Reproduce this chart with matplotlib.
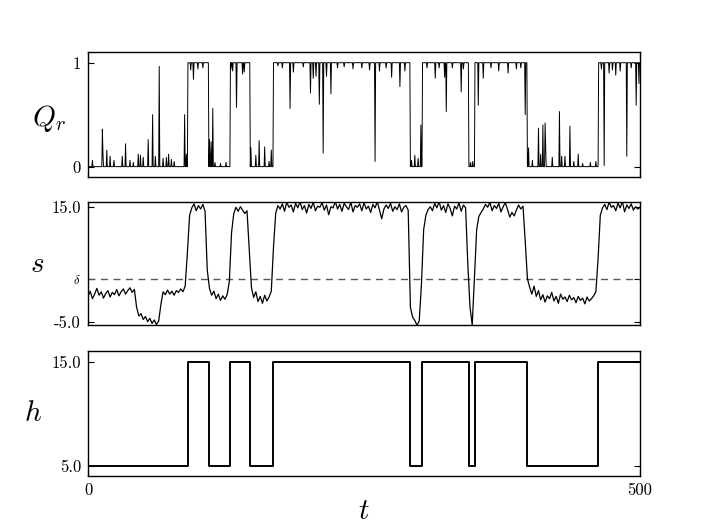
import numpy as np
import matplotlib
matplotlib.use("Agg")
import matplotlib.pyplot as plt

plt.rcParams["font.family"] = "cmr10"
plt.rcParams["mathtext.fontset"] = "cm"
plt.rcParams["axes.unicode_minus"] = False

# external field h: switching times and levels
h_switch = [0, 90.4, 109.3, 128.6, 146.7, 167.6, 291.7, 302.8, 344.7, 350.5, 397.7, 462.2, 500]
h_level = [5, 15, 5, 15, 5, 15, 5, 15, 5, 15, 5, 15]

# s(t), read every 2 time units from t=0 to t=500
s_vals = [
    -0.6, 0.3, -1.0, -0.2, 0.8, -0.4, 0.2, -0.9, -0.1, 0.4, -0.7, 0.1, -0.3, 0.6, -0.5, 0.2,
    0.7, -0.2, 0.4, 0.9, 0.1, 0.6,
    -2.5, -4.0, -3.6, -4.6, -4.1, -5.0, -4.4, -5.3, -4.7, -5.5, -4.9,
    -2.0, 0.2, -0.3, 0.5, -0.2, 0.3, -0.4, 0.4, 0.1, 0.7, 0.2, 1.2,
    7.0, 13.5, 14.8, 15.5, 14.3, 15.2, 14.6, 15.4, 14.2,
    4.0, 0.8, -0.4, 0.3, -1.0, -0.2, -1.3, -0.5, -1.1, -0.3,
    2.0, 10.5, 13.8, 14.9, 14.2, 15.0, 14.4, 13.8, 14.3,
    7.5, 1.0, -0.8, 0.2, -1.5, -0.6, -1.8, -0.4, -1.4, -0.7, 0.3,
    8.0, 13.9, 15.2,
    14.6, 15.5, 14.2, 15.8, 14.9, 15.3, 14.1, 15.6, 14.8, 15.9,
    14.5, 15.2, 13.9, 15.4, 14.7, 15.8, 14.3, 15.1, 14.9, 15.7,
    14.4, 15.3, 13.6, 15.0, 14.8, 15.9, 14.6, 15.4, 14.2, 15.6,
    15.0, 14.5, 15.8, 14.1, 15.2, 14.9, 15.5, 14.3, 15.7, 14.6,
    15.1, 14.0, 15.4, 14.8, 15.9, 14.4, 12.9, 14.6, 15.3, 14.7,
    15.6, 14.2, 15.0, 14.5, 15.5, 14.1, 14.9, 15.2, 14.4,
    -2.5, -4.2, -4.8, -5.6, -4.9,
    1.5, 11.0, 13.5, 14.5,
    15.0, 14.3, 15.6, 14.8, 15.9, 14.4, 15.2, 14.0, 15.5, 14.7, 13.4, 15.1, 14.6, 15.7, 14.2,
    15.3, 14.8,
    5.0, -2.5, -5.6,
    2.5, 11.0, 13.3, 14.0,
    14.6, 15.4, 14.9, 15.8, 14.3, 15.2, 14.7, 15.6, 14.1, 15.0, 15.7, 14.5, 13.2, 14.0, 13.4,
    14.4, 15.3, 14.6, 15.1,
    9.0, 2.5, 1.0, -0.2,
    1.2, -0.6, 0.4, -1.2, -0.3, -1.6, -0.5, -1.0, 0.1, -1.4, -0.6, -1.8, -0.2, -1.1, -0.7,
    -1.5, -0.4, -1.2, -0.8, -1.7, -0.6, -1.3, -0.9, -1.9, -0.7, -1.4, -1.0, -0.5, 0.2,
    6.0, 13.5, 14.8,
    15.4, 14.5, 15.8, 14.9, 15.2, 14.3, 15.6, 14.8, 15.9, 14.1, 15.3, 14.7, 15.5, 14.4, 15.0,
    14.6, 14.9,
]
delta = 2.5

# Q_r: spikes away from the 0 / 1 baseline
q_spike_t = [4.2, 12.9, 13.5, 16.9, 19.9, 23.6, 31.1, 33.8, 38.0, 41.0, 45.6, 47.4, 50.1,
             54.3, 58.3, 61.0, 64.6, 68.2, 71.2, 73.0, 75.7, 77.8, 87.3, 88.8,
             93.0, 95.4, 99.7, 104.0,
             109.9, 111.4, 112.9, 115.0, 120.0, 125.0,
             129.6, 131.0, 134.7, 140.0, 141.5,
             147.3, 152.0, 155.1, 160.2, 164.0, 166.2,
             172.0, 176.0, 183.0, 186.0, 195.0, 201.7, 204.0, 206.5, 209.5, 213.2, 216.0,
             220.1, 226.0, 232.0, 240.0, 248.0, 255.0, 260.0, 264.0, 270.0, 275.0, 282.6, 287.0,
             293.0, 296.0, 299.0, 301.5,
             307.0, 314.3, 318.0, 323.0, 324.3, 330.0, 337.9, 340.0,
             346.5, 348.5,
             353.6, 358.0, 365.0, 372.0, 380.7, 388.0, 392.0, 396.0,
             398.8, 402.7, 408.2, 410.0, 412.1, 413.9, 414.5, 420.5, 426.9, 429.0, 432.0,
             436.6, 440.0, 444.0, 448.0, 455.0, 460.0,
             465.0, 467.7, 472.0, 475.0, 478.0, 482.0, 488.0, 492.0, 496.4, 499.0]
q_spike_v = [0.06, 0.36, 0.14, 0.16, 0.10, 0.06, 0.10, 0.22, 0.06, 0.04, 0.12, 0.11, 0.09,
             0.26, 0.50, 0.10, 0.965, 0.08, 0.09, 0.12, 0.07, 0.05, 0.50, 0.12,
             0.93, 0.84, 0.94, 0.95,
             0.26, 0.24, 0.56, 0.04, 0.03, 0.04,
             0.94, 0.92, 0.57, 0.89, 0.91,
             0.18, 0.11, 0.25, 0.19, 0.05, 0.16,
             0.97, 0.95, 0.56, 0.91, 0.96, 0.71, 0.85, 0.87, 0.60, 0.13, 0.87,
             0.70, 0.95, 0.96, 0.94, 0.95, 0.93, 0.05, 0.92, 0.95, 0.86, 0.77, 0.92,
             0.06, 0.11, 0.08, 0.40,
             0.95, 0.85, 0.95, 0.86, 0.53, 0.95, 0.72, 0.94,
             0.04, 0.05,
             0.59, 0.85, 0.95, 0.92, 0.90, 0.94, 0.95, 0.50,
             0.18, 0.06, 0.37, 0.12, 0.40, 0.42, 0.22, 0.09, 0.53, 0.10, 0.10,
             0.39, 0.05, 0.12, 0.03, 0.04, 0.05,
             0.94, 0.01, 0.90, 0.93, 0.88, 0.92, 0.10, 0.95, 0.59, 0.80]

# build the traces
t_s = np.linspace(0, 500, len(s_vals))
t_q = np.arange(0, 500.01, 0.5)
idx = np.searchsorted(h_switch, t_q, side="right") - 1
idx = np.clip(idx, 0, len(h_level) - 1)
q = np.where(np.array(h_level)[idx] == 15, 1.0, 0.0)
for ts, v in zip(q_spike_t, q_spike_v):
    q[int(round(ts / 0.5))] = v

fig = plt.figure(figsize=(7.11, 5.30), dpi=100)
left, width = 0.1238, 0.7764
ax1 = fig.add_axes([left, 0.666, width, 0.2353])
ax2 = fig.add_axes([left, 0.3862, width, 0.2332])
ax3 = fig.add_axes([left, 0.1019, width, 0.2358])

ax1.plot(t_q, q, color="k", lw=0.7)
ax1.set_ylim(-0.1, 1.1)
ax1.set_yticks([0, 1])
ax1.set_yticklabels(["0", "1"], fontsize=12)

ax2.axhline(delta, color="0.35", lw=1.0, ls=(0, (5, 4)))
ax2.plot(t_s, s_vals, color="k", lw=0.9)
ax2.set_ylim(-5.63, 15.87)
ax2.set_yticks([-5, delta, 15])
ax2.set_yticklabels(["-5.0", r"$\delta$", "15.0"], fontsize=12)
ax2.get_yticklabels()[1].set_fontsize(9)

ax3.step(h_switch, h_level + [h_level[-1]], where="post", color="k", lw=1.4)
ax3.set_ylim(4.04, 16.06)
ax3.set_yticks([5, 15])
ax3.set_yticklabels(["5.0", "15.0"], fontsize=12)

for ax in (ax1, ax2, ax3):
    ax.set_xlim(0, 500)
    ax.set_xticks([0, 500])
    ax.tick_params(direction="in", length=4.5, width=0.8, right=True, top=True, pad=5)
    for sp in ax.spines.values():
        sp.set_linewidth(1.0)
ax1.set_xticklabels([])
ax2.set_xticklabels([])
ax3.set_xticklabels(["0", "500"], fontsize=12)

ax1.set_ylabel(r"$Q_r$", fontsize=21, rotation=0, ha="center", va="center")
ax1.yaxis.set_label_coords(-0.071, 0.47)
ax2.set_ylabel(r"$s$", fontsize=21, rotation=0, ha="center", va="center")
ax2.yaxis.set_label_coords(-0.093, 0.49)
ax3.set_ylabel(r"$h$", fontsize=21, rotation=0, ha="center", va="center")
ax3.yaxis.set_label_coords(-0.100, 0.5)
ax3.set_xlabel(r"$t$", fontsize=21, labelpad=0)

fig.savefig("out.png", dpi=100)
